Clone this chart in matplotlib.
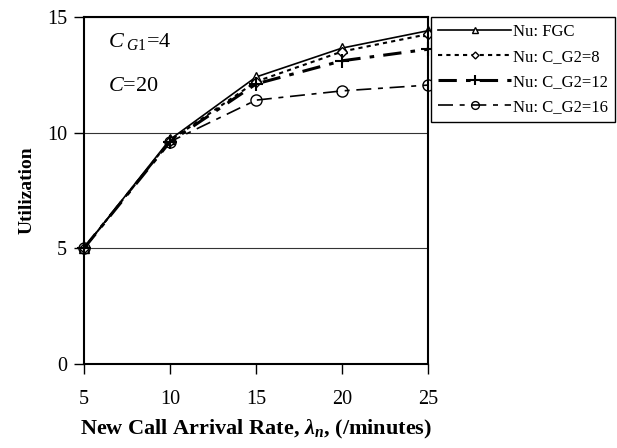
import matplotlib
matplotlib.use("Agg")
import matplotlib.pyplot as plt

# data
rate = [5, 10, 15, 20, 25]
nu_fgc = [5.0, 9.7, 12.4, 13.65, 14.4]
nu_g2_8 = [5.0, 9.65, 12.2, 13.5, 14.25]
nu_g2_12 = [5.0, 9.6, 12.1, 13.1, 13.6]
nu_g2_16 = [5.0, 9.6, 11.4, 11.8, 12.05]
yticks = [0, 5, 10, 15]

plt.rcParams['font.family'] = ['Liberation Serif', 'DejaVu Serif']
plt.rcParams['mathtext.fontset'] = 'custom'
plt.rcParams['mathtext.rm'] = 'Liberation Serif'
plt.rcParams['mathtext.it'] = 'Liberation Serif:italic'
plt.rcParams['mathtext.bf'] = 'Liberation Serif:bold:italic'

fig = plt.figure(figsize=(6.17, 4.48), dpi=100)
ax = fig.add_axes([0.136, 0.1875, 0.558, 0.775])

ax.plot(rate, nu_fgc, color='black', lw=1.2, ls='-', marker='^',
        mfc='white', mec='black', ms=7, label='Nu: FGC')
ax.plot(rate, nu_g2_8, color='black', lw=1.5, ls=(0, (2, 2)), marker='D',
        mfc='white', mec='black', ms=5, label='Nu: C_G2=8')
ax.plot(rate, nu_g2_12, color='black', lw=2.2, ls=(0, (6, 3, 1.5, 3)), marker='+',
        mec='black', ms=10, mew=1.5, label='Nu: C_G2=12')
ax.plot(rate, nu_g2_16, color='black', lw=1.2, ls=(0, (9, 4, 3, 4)), marker='o',
        mfc='none', mec='black', ms=8, label='Nu: C_G2=16')

ax.set_xlim(5, 25)
ax.set_ylim(0, 15)
ax.set_xticks(rate)
ax.set_yticks(yticks)
ax.yaxis.grid(True, color='#333333', lw=0.8)
ax.tick_params(direction='out', length=7, width=1, labelsize=14.5, pad=5)
ax.tick_params(axis='x', pad=12)
for s in ax.spines.values():
    s.set_linewidth(1.5)
for ln in ax.lines:
    ln.set_clip_on(False)

ax.set_ylabel('Utilization', fontsize=14, fontweight='bold', labelpad=8)
ax.set_xlabel(r'New Call Arrival Rate, $\mathbf{\lambda}_{\mathbf{n}}$, (/minutes)',
              fontsize=16, fontweight='bold', labelpad=6)

ax.text(0.07, 0.93, r'$\mathit{C}_{\ \mathit{G1}}$=4', transform=ax.transAxes,
        fontsize=16, va='center', ha='left')
ax.text(0.07, 0.80, r'$\mathit{C}$=20', transform=ax.transAxes,
        fontsize=16, va='center', ha='left')

leg = ax.legend(loc='upper left', bbox_to_anchor=(0.699, 0.962),
                bbox_transform=fig.transFigure, fontsize=12, handlelength=4.4,
                markerscale=0.7, fancybox=False, edgecolor='black', framealpha=1,
                borderpad=0.4, labelspacing=0.55, handletextpad=0.1,
                borderaxespad=0)
leg.get_frame().set_linewidth(1.0)

fig.savefig('out.png', dpi=100)
